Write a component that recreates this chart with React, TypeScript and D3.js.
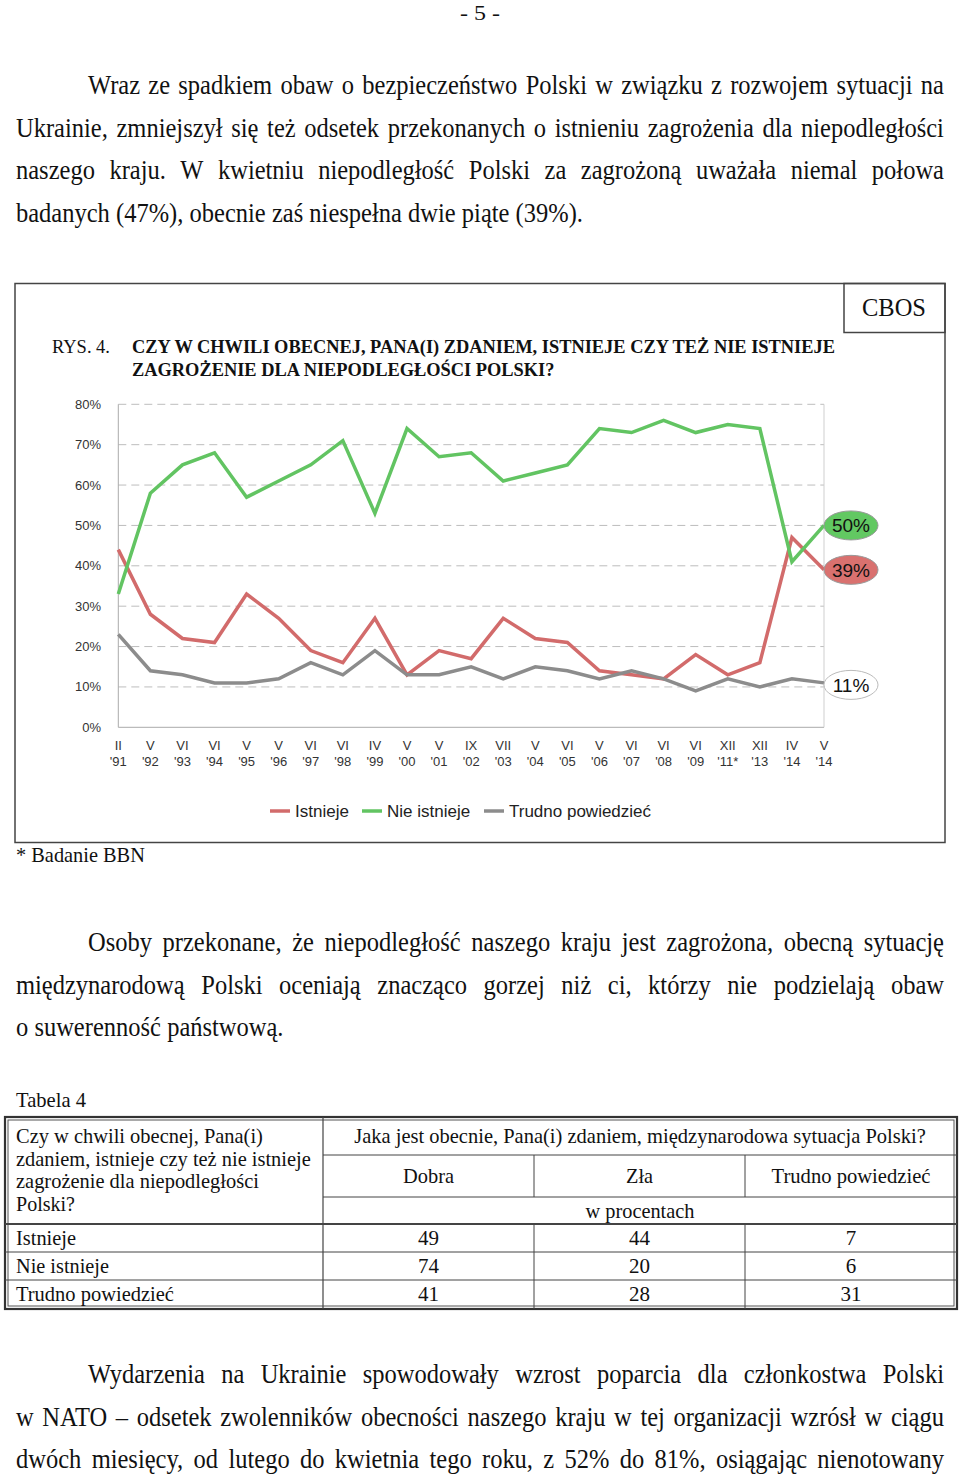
import React from "react";
import * as d3 from "d3";

// ---------- chart data ----------
const months = ["II","V","VI","VI","V","V","VI","VI","IV","V","V","IX","VII","V","VI","V","VI","VI","VI","XII","XII","IV","V"];
const years = ["'91","'92","'93","'94","'95","'96","'97","'98","'99","'00","'01","'02","'03","'04","'05","'06","'07","'08","'09","'11*","'13","'14","'14"];
const istnieje = [44,28,22,21,33,27,19,16,27,13,19,17,27,22,21,14,13,12,18,13,16,47,39];
const nieIstnieje = [33,58,65,68,57,61,65,71,53,74,67,68,61,63,65,74,73,76,73,75,74,41,50];
const trudno = [23,14,13,11,11,12,16,13,19,13,13,15,12,15,14,12,14,12,9,12,10,12,11];
const seriesNames = ["Istnieje", "Nie istnieje", "Trudno powiedzieć"];
const yTicks = [0,10,20,30,40,50,60,70,80];

// ---------- table data ----------
const tableQuestion = ["Czy w chwili obecnej, Pana(i)", "zdaniem, istnieje czy też nie istnieje", "zagrożenie dla niepodległości", "Polski?"];
const tableHeader = "Jaka jest obecnie, Pana(i) zdaniem, międzynarodowa sytuacja Polski?";
const tableColumns = ["Dobra", "Zła", "Trudno powiedzieć"];
const tableRows = ["Istnieje", "Nie istnieje", "Trudno powiedzieć"];
const tableDobra = [49, 74, 41];
const tableZla = [44, 20, 28];
const tableTrudno = [7, 6, 31];

// ---------- page text ----------
const para1 = [
  "Wraz ze spadkiem obaw o bezpieczeństwo Polski w związku z rozwojem sytuacji na",
  "Ukrainie, zmniejszył się też odsetek przekonanych o istnieniu zagrożenia dla niepodległości",
  "naszego kraju. W kwietniu niepodległość Polski za zagrożoną uważała niemal połowa",
  "badanych (47%), obecnie zaś niespełna dwie piąte (39%).",
];
const para2 = [
  "Osoby przekonane, że niepodległość naszego kraju jest zagrożona, obecną sytuację",
  "międzynarodową Polski oceniają znacząco gorzej niż ci, którzy nie podzielają obaw",
  "o suwerenność państwową.",
];
const para3 = [
  "Wydarzenia na Ukrainie spowodowały wzrost poparcia dla członkostwa Polski",
  "w NATO – odsetek zwolenników obecności naszego kraju w tej organizacji wzrósł w ciągu",
  "dwóch miesięcy, od lutego do kwietnia tego roku, z 52% do 81%, osiągając nienotowany",
];

const SERIF = "'Liberation Serif', 'Times New Roman', serif";
const SANS = "'Liberation Sans', Arial, sans-serif";
const COLORS = ["#d26b6b", "#62c462", "#8c8c8c"];
const LABEL_FILLS = ["#d9716f", "#62c862", "#ffffff"];

let _ctx: CanvasRenderingContext2D | null = null;
function measure(text: string, size: number, weight: string = "normal"): number {
  if (!_ctx && typeof document !== "undefined") {
    _ctx = document.createElement("canvas").getContext("2d");
  }
  if (!_ctx) return text.length * size * 0.45;
  _ctx.font = `${weight} ${size}px "Liberation Serif", "Times New Roman", serif`;
  return _ctx.measureText(text).width;
}

// serif text; if w is given, glyphs are scaled horizontally to that width
function S(props: any) {
  const { x, y, w, size = 24, anchor = "start", weight = "normal", fill = "#111", children } = props;
  const str = String(children);
  const sx = w ? w / measure(str, size, weight) : 1;
  return (
    <text
      transform={`translate(${x},${y}) scale(${sx},1)`}
      fontFamily={SERIF}
      fontSize={size}
      fontWeight={weight}
      textAnchor={anchor}
      fill={fill}
    >
      {str}
    </text>
  );
}

const BODY = 27;
const LINE_H = 42.5;

// horizontal glyph scale derived from the last (non-justified) line of paragraph 1
function bodyScale() {
  return 567 / measure(para1[para1.length - 1], BODY);
}

function JustLine({ text, x, y, width, justify, sx }: any) {
  const words = text.split(" ");
  const spaceW = measure(" ", BODY) * sx;
  let scale = sx;
  let ww = words.map((wd: string) => measure(wd, BODY) * scale);
  let sum = d3.sum(ww);
  let gap = spaceW;
  if (justify && words.length > 1) {
    gap = (width - sum) / (words.length - 1);
    if (gap < spaceW * 0.8) {
      const target = width - spaceW * 0.8 * (words.length - 1);
      scale = scale * (target / sum);
      ww = words.map((wd: string) => measure(wd, BODY) * scale);
      sum = d3.sum(ww);
      gap = (width - sum) / (words.length - 1);
    }
  }
  let cx = x;
  return (
    <g>
      {words.map((wd: string, i: number) => {
        const px = cx;
        cx += ww[i] + gap;
        return (
          <text
            key={i}
            transform={`translate(${px},${y}) scale(${scale},1)`}
            fontFamily={SERIF}
            fontSize={BODY}
            fill="#111"
          >
            {wd}
          </text>
        );
      })}
    </g>
  );
}

function Paragraph({ lines, top, lastJustified }: { lines: string[]; top: number; lastJustified?: boolean }) {
  const sx = bodyScale();
  return (
    <g>
      {lines.map((l, i) => {
        const x = i === 0 ? 88 : 16;
        const justify = i < lines.length - 1 || !!lastJustified;
        return <JustLine key={i} text={l} x={x} y={top + i * LINE_H} width={944 - x} justify={justify} sx={sx} />;
      })}
    </g>
  );
}

function Chart() {
  const x = d3.scalePoint<number>().domain(d3.range(months.length)).range([118.3, 824]);
  const y = d3.scaleLinear().domain([0, 80]).range([727.3, 404.3]);
  const series = [istnieje, nieIstnieje, trudno];
  const line = d3
    .line<number>()
    .x((_, i) => x(i) as number)
    .y((d) => y(d));
  const last = months.length - 1;
  const legendX = [270, 362, 484];

  return (
    <g>
      {/* frame */}
      <rect x={15} y={283.5} width={930} height={559} fill="none" stroke="#444" strokeWidth={1.5} />
      <rect x={844} y={283.5} width={101} height={49} fill="none" stroke="#444" strokeWidth={1.5} />
      <S x={894} y={316} size={26} anchor="middle" w={64}>CBOS</S>

      {/* title */}
      <S x={52} y={353} size={19} w={58}>RYS. 4.</S>
      <S x={132} y={353} size={19.5} weight="bold" w={706}>
        CZY W CHWILI OBECNEJ, PANA(I) ZDANIEM, ISTNIEJE CZY TEŻ NIE ISTNIEJE
      </S>
      <S x={132} y={376} size={19.5} weight="bold" w={424}>
        ZAGROŻENIE DLA NIEPODLEGŁOŚCI POLSKI?
      </S>

      {/* grid */}
      {yTicks.map((t) => (
        <g key={t}>
          {t > 0 && (
            <line x1={118.3} x2={824} y1={y(t)} y2={y(t)} stroke="#bdbdbd" strokeWidth={1} strokeDasharray="8,5" />
          )}
          <text x={101} y={y(t)} dy="0.35em" textAnchor="end" fontFamily={SANS} fontSize={13} fill="#333">
            {t}%
          </text>
        </g>
      ))}
      <line x1={118.3} x2={824} y1={y(0)} y2={y(0)} stroke="#aaa" strokeWidth={1} />
      <line x1={118.3} x2={118.3} y1={y(80)} y2={y(0)} stroke="#aaa" strokeWidth={1} />
      <line x1={824} x2={824} y1={y(80)} y2={y(0)} stroke="#cfcfcf" strokeWidth={1} />

      {/* x labels */}
      {months.map((m, i) => (
        <text key={i} x={x(i)} textAnchor="middle" fontFamily={SANS} fontSize={13} fill="#333">
          <tspan x={x(i)} y={750}>{m}</tspan>
          <tspan x={x(i)} y={766}>{years[i]}</tspan>
        </text>
      ))}

      {/* lines */}
      {series.map((s, k) => (
        <path key={k} d={line(s) || ""} fill="none" stroke={COLORS[k]} strokeWidth={3.5} strokeLinejoin="miter" />
      ))}

      {/* end labels */}
      {series.map((s, k) => (
        <g key={k}>
          <ellipse cx={851} cy={y(s[last]) + (k === 2 ? 2 : 0)} rx={27} ry={14.5} fill={LABEL_FILLS[k]} stroke={k === 2 ? "#bbb" : "#999"} strokeWidth={1} />
          <text x={851} y={y(s[last]) + (k === 2 ? 2 : 0)} dy="0.36em" textAnchor="middle" fontFamily={SANS} fontSize={19} fill="#111">
            {s[last]}%
          </text>
        </g>
      ))}

      {/* legend */}
      {seriesNames.map((n, k) => (
        <g key={n}>
          <line x1={legendX[k]} x2={legendX[k] + 20} y1={811} y2={811} stroke={COLORS[k]} strokeWidth={3.5} />
          <text x={legendX[k] + 25} y={811} dy="0.36em" fontFamily={SANS} fontSize={17} fill="#222">
            {n}
          </text>
        </g>
      ))}

      <S x={16} y={862} size={21} w={129}>* Badanie BBN</S>
    </g>
  );
}

function Table() {
  const L = 5, R = 957, T = 1117, B = 1309;
  const c1 = 323, c2 = 534, c3 = 745;
  const r1 = 1155, r2 = 1197, r3 = 1224, r4 = 1252, r5 = 1280;
  const colCenters = [(c1 + c2) / 2, (c2 + c3) / 2, (c3 + R) / 2];
  const rowBase = [1245, 1273, 1301];
  const cols = [tableDobra, tableZla, tableTrudno];
  const headerW = [51, 27, 159];
  const rowW = [60, 93, 158];
  return (
    <g>
      <S x={16} y={1107} size={21} w={70}>Tabela 4</S>
      <rect x={L} y={T} width={R - L} height={B - T} fill="none" stroke="#333" strokeWidth={2.2} />
      <rect x={L + 3} y={T + 3} width={R - L - 6} height={B - T - 6} fill="none" stroke="#555" strokeWidth={1} />
      <line x1={c1} x2={c1} y1={T} y2={B} stroke="#444" strokeWidth={1.2} />
      <line x1={c1} x2={R} y1={r1} y2={r1} stroke="#444" strokeWidth={1} />
      <line x1={c1} x2={R} y1={r2} y2={r2} stroke="#444" strokeWidth={1} />
      <line x1={L} x2={R} y1={r3} y2={r3} stroke="#444" strokeWidth={1.8} />
      <line x1={L} x2={R} y1={r4} y2={r4} stroke="#444" strokeWidth={1} />
      <line x1={L} x2={R} y1={r5} y2={r5} stroke="#444" strokeWidth={1} />
      {[c2, c3].map((c) => (
        <g key={c}>
          <line x1={c} x2={c} y1={r1} y2={r2} stroke="#444" strokeWidth={1} />
          <line x1={c} x2={c} y1={r3} y2={B} stroke="#444" strokeWidth={1} />
        </g>
      ))}
      {tableQuestion.map((q, i) => (
        <S key={i} x={16} y={1143 + i * 22.7} size={21} w={[247, 295, 243, 59][i]}>{q}</S>
      ))}
      <S x={(c1 + R) / 2} y={1143} size={21} anchor="middle" w={572}>{tableHeader}</S>
      {tableColumns.map((c, i) => (
        <S key={c} x={colCenters[i]} y={1183} size={21} anchor="middle" w={headerW[i]}>{c}</S>
      ))}
      <S x={(c1 + R) / 2} y={1218} size={21} anchor="middle" w={109}>w procentach</S>
      {tableRows.map((r, i) => (
        <g key={r}>
          <S x={16} y={rowBase[i]} size={21} w={rowW[i]}>{r}</S>
          {cols.map((col, j) => (
            <S key={j} x={colCenters[j]} y={rowBase[i]} size={21} anchor="middle">{col[i]}</S>
          ))}
        </g>
      ))}
    </g>
  );
}

export default function App() {
  return (
    <svg
      width={960}
      height={1475}
      style={{ position: "absolute", left: 0, top: 0, background: "#fff" }}
    >
      <rect x={0} y={0} width={960} height={1475} fill="#fff" />
      <S x={480} y={19.5} anchor="middle" w={40} size={21.5}>- 5 -</S>
      <Paragraph lines={para1} top={94} />
      <Chart />
      <Paragraph lines={para2} top={951} />
      <Table />
      <Paragraph lines={para3} top={1383} lastJustified />
    </svg>
  );
}
